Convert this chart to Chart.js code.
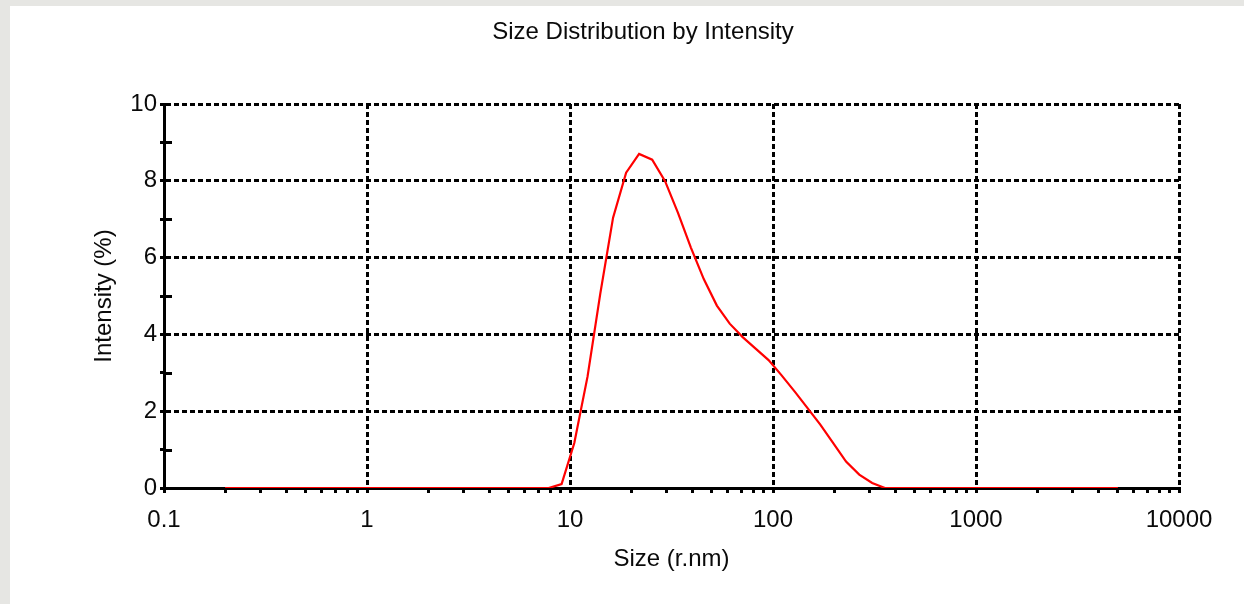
<!DOCTYPE html>
<html lang="en">
<head>
  <meta charset="UTF-8" />
  <title>Size Distribution by Intensity</title>
  <script src="https://cdn.jsdelivr.net/npm/chart.js"></script>
  <style>
    * {
      box-sizing: border-box;
      margin: 0;
      padding: 0;
    }

    body {
      width: 1244px;
      height: 604px;
      overflow: hidden;
      background: #e6e6e3;
      position: relative;
    }

    .panel {
      position: absolute;
      left: 10px;
      top: 6px;
      right: 0;
      bottom: 0;
      background: #ffffff;
    }

    .chart-box {
      position: absolute;
      left: 0;
      top: 0;
      width: 1244px;
      height: 604px;
    }
  </style>
</head>
<body>

  <div class="panel"></div>
  <div class="chart-box">
    <canvas id="sizeChart"></canvas>
  </div>

  <script>
    // values
    const chartTitle = 'Size Distribution by Intensity';
    const xTitle = 'Size (r.nm)';
    const yTitle = 'Intensity (%)';

    const sizes = [0.2, 7.85, 9.09, 10.5, 12.2, 14.1, 16.3, 18.9, 21.9, 25.4, 29.4, 34.0, 39.4, 45.6,
                   52.9, 61.2, 70.9, 82.1, 95.1, 110, 128, 148, 171, 198, 229, 266, 308, 356, 5000];
    const intensity = [0, 0, 0.1, 1.17, 2.9, 5.06, 7.04, 8.21, 8.70, 8.55, 7.99, 7.17, 6.26, 5.44,
                       4.75, 4.28, 3.93, 3.63, 3.33, 2.94, 2.51, 2.08, 1.65, 1.17, 0.69, 0.35, 0.13, 0, 0];

    const xDecades = [0.1, 1, 10, 100, 1000, 10000];
    const xTickLabels = ['0.1', '1', '10', '100', '1000', '10000'];
    const yLabelTicks = [0, 2, 4, 6, 8, 10];
    const yMinorTicks = [1, 3, 5, 7, 9];

    const font = '"Liberation Sans", Arial, sans-serif';
    const ink = '#0a0a0a';

    // minor ticks 2..9 inside each decade
    const xTicks = [];
    xDecades.forEach((d, i) => {
      xTicks.push(d);
      if (i < xDecades.length - 1) {
        for (let m = 2; m <= 9; m++) xTicks.push(Math.round(d * m * 1000) / 1000);
      }
    });
    const isDecade = v => xDecades.some(d => Math.abs(d - v) < 1e-9);

    const extras = {
      id: 'extras',
      afterDraw(chart) {
        const {ctx, chartArea, scales: {y}} = chart;
        ctx.save();
        // minor y ticks also poke into the plot
        ctx.strokeStyle = '#000';
        ctx.lineWidth = 3;
        yMinorTicks.forEach(v => {
          const py = Math.round(y.getPixelForValue(v)) + 0.5;
          ctx.beginPath();
          ctx.moveTo(chartArea.left, py);
          ctx.lineTo(chartArea.left + 8, py);
          ctx.stroke();
        });
        // chart title
        ctx.fillStyle = ink;
        ctx.font = '24px ' + font;
        ctx.textAlign = 'center';
        ctx.textBaseline = 'middle';
        ctx.fillText(chartTitle, 643, 32);
        ctx.restore();
      }
    };

    const ctx = document.getElementById('sizeChart').getContext('2d');
    const sizeChart = new Chart(ctx, {
      type: 'line',
      data: {
        datasets: [{
          label: 'Intensity',
          data: sizes.map((s, i) => ({x: s, y: intensity[i]})),
          borderColor: '#ff0000',
          borderWidth: 2.2,
          pointRadius: 0,
          fill: false,
          tension: 0
        }]
      },
      options: {
        responsive: true,
        maintainAspectRatio: false,
        animation: false,
        layout: {
          padding: {left: 0, right: 65, top: 104, bottom: 0}
        },
        plugins: {
          legend: { display: false },
          tooltip: { enabled: false }
        },
        scales: {
          x: {
            type: 'logarithmic',
            min: 0.1,
            max: 10000,
            afterBuildTicks: scale => {
              scale.ticks = xTicks.map(v => ({value: v, major: isDecade(v)}));
            },
            afterFit: scale => { scale.height = 116; },
            ticks: {
              autoSkip: false,
              maxRotation: 0,
              padding: 13,
              color: ink,
              font: { family: font, size: 24 },
              callback: value => {
                const i = xDecades.findIndex(d => Math.abs(d - value) < 1e-9);
                return i >= 0 ? xTickLabels[i] : '';
              }
            },
            grid: {
              color: c => (c.tick && isDecade(c.tick.value) && c.tick.value > 0.1) ? '#000' : 'rgba(0,0,0,0)',
              lineWidth: 3,
              tickColor: '#000',
              tickWidth: 3,
              tickLength: 5,
              tickBorderDash: []
            },
            border: { display: true, color: '#000', width: 3, dash: [5, 3] },
            title: {
              display: true,
              text: xTitle,
              color: ink,
              font: { family: font, size: 24, lineHeight: 1 },
              padding: { top: 0, bottom: 33 }
            }
          },
          y: {
            type: 'linear',
            min: 0,
            max: 10,
            afterFit: scale => { scale.width = 164; },
            ticks: {
              stepSize: 1,
              autoSkip: false,
              padding: 3,
              color: ink,
              font: { family: font, size: 24 },
              callback: value => yLabelTicks.includes(value) ? String(value) : ''
            },
            grid: {
              color: c => (c.tick && yLabelTicks.includes(c.tick.value) && c.tick.value > 0) ? '#000' : 'rgba(0,0,0,0)',
              lineWidth: 3,
              tickColor: '#000',
              tickWidth: 3,
              tickLength: 4,
              tickBorderDash: []
            },
            border: { display: true, color: '#000', width: 3, dash: [5, 3] },
            title: {
              display: true,
              text: yTitle,
              color: ink,
              font: { family: font, size: 24, lineHeight: 1 },
              padding: { top: 92, bottom: 0 }
            }
          }
        }
      },
      plugins: [extras]
    });
  </script>

</body>
</html>
